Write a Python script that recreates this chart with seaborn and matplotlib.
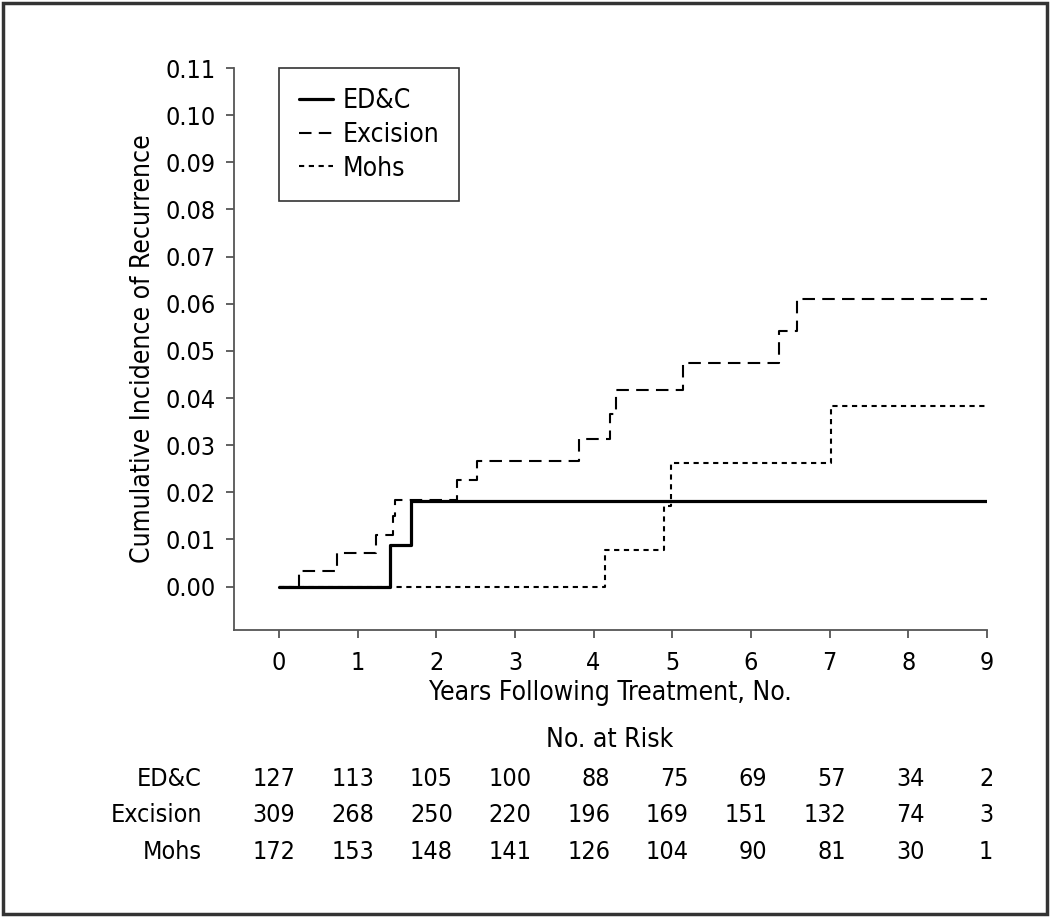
import matplotlib
matplotlib.use("Agg")
import matplotlib.pyplot as plt
import matplotlib.transforms as mtransforms
from matplotlib.patches import Rectangle
import seaborn as sns
import pandas as pd

# Step curves (years, cumulative incidence)
edc_t = [0, 1.41, 1.68, 9]
edc_y = [0, 0.0088, 0.0182, 0.0182]

exc_t = [0, 0.26, 0.74, 1.24, 1.45, 1.48, 2.27, 2.52, 3.81, 4.21, 4.29, 5.14, 6.36, 6.58, 9]
exc_y = [0, 0.0034, 0.0071, 0.0109, 0.0150, 0.0184, 0.0227, 0.0267, 0.0313, 0.0366,
         0.0417, 0.0474, 0.0543, 0.0610, 0.0610]

mohs_t = [0, 4.15, 4.90, 4.98, 7.02, 9]
mohs_y = [0, 0.0077, 0.0172, 0.0263, 0.0384, 0.0384]

groups = ["ED&C", "Excision", "Mohs"]
years = list(range(10))
yticks = [i / 100 for i in range(12)]

# numbers at risk
risk_edc = [127, 113, 105, 100, 88, 75, 69, 57, 34, 2]
risk_exc = [309, 268, 250, 220, 196, 169, 151, 132, 74, 3]
risk_mohs = [172, 153, 148, 141, 126, 104, 90, 81, 30, 1]

sns.set_style("ticks")
plt.rcParams["font.family"] = ["DejaVu Sans"]
plt.rcParams["font.stretch"] = "condensed"
plt.rcParams["text.color"] = "black"
plt.rcParams["xtick.labelcolor"] = "black"
plt.rcParams["ytick.labelcolor"] = "black"
plt.rcParams["axes.labelcolor"] = "black"
FS = 18     # digits
FT = 19     # words

fig = plt.figure(figsize=(10.5, 9.17), dpi=100)
ax = fig.add_axes([0.2229, 0.3130, 0.7171, 0.6128])

curves = {
    "ED&C": (edc_t, edc_y, "-", 2.3),
    "Excision": (exc_t, exc_y, (0, (6, 3.5)), 1.5),
    "Mohs": (mohs_t, mohs_y, (0, (2.5, 2.2)), 1.5),
}
for name in groups:
    t, y, ls, lw = curves[name]
    df = pd.DataFrame({"t": t, "y": y})
    sns.lineplot(data=df, x="t", y="y", ax=ax, drawstyle="steps-post", estimator=None,
                 sort=False, color="black", linestyle=ls, linewidth=lw, label=name)

ax.set_xlim(-0.57, 9)
ax.set_ylim(-0.0092, 0.11)
ax.set_xticks(years)
ax.set_yticks(yticks)
ax.set_yticklabels([f"{v:.2f}" for v in yticks])
sns.despine(ax=ax)
for s in ["left", "bottom"]:
    ax.spines[s].set_color("#555555")
    ax.spines[s].set_linewidth(1.3)
ax.tick_params(axis="both", length=6, width=1.3, color="#555555", labelsize=FS, pad=7)
ax.tick_params(axis="x", pad=9)
ax.set_xlabel("Years Following Treatment, No.", fontsize=FT, labelpad=4)
ax.set_ylabel("Cumulative Incidence of Recurrence", fontsize=FT, labelpad=7)

leg = ax.legend(loc="upper left", bbox_to_anchor=(0.0598, 1.0), borderaxespad=0,
                frameon=True, fancybox=False, handlelength=1.3, handletextpad=0.35,
                borderpad=0.75, labelspacing=0.3, fontsize=FT)
leg.get_frame().set_edgecolor("black")
leg.get_frame().set_linewidth(1.2)

# at-risk table
fig.text(0.5811, 0.193, "No. at Risk", ha="center", va="center", fontsize=FT)
trans = mtransforms.blended_transform_factory(ax.transData, fig.transFigure)
rows = [("ED&C", risk_edc, 0.1505), ("Excision", risk_exc, 0.1113), ("Mohs", risk_mohs, 0.0709)]
for label, vals, yy in rows:
    fig.text(0.1924, yy, label, ha="right", va="center", fontsize=FS)
    for x, v in zip(years, vals):
        off = 0.08 if x == 9 else 0.21
        ax.text(x + off, yy, str(v), transform=trans, ha="right", va="center", fontsize=FS)

fig.patches.append(Rectangle((0.003, 0.003), 0.994, 0.994, transform=fig.transFigure,
                             fill=False, lw=2.5, ec="#333333"))

fig.savefig("out.png", dpi=100)
